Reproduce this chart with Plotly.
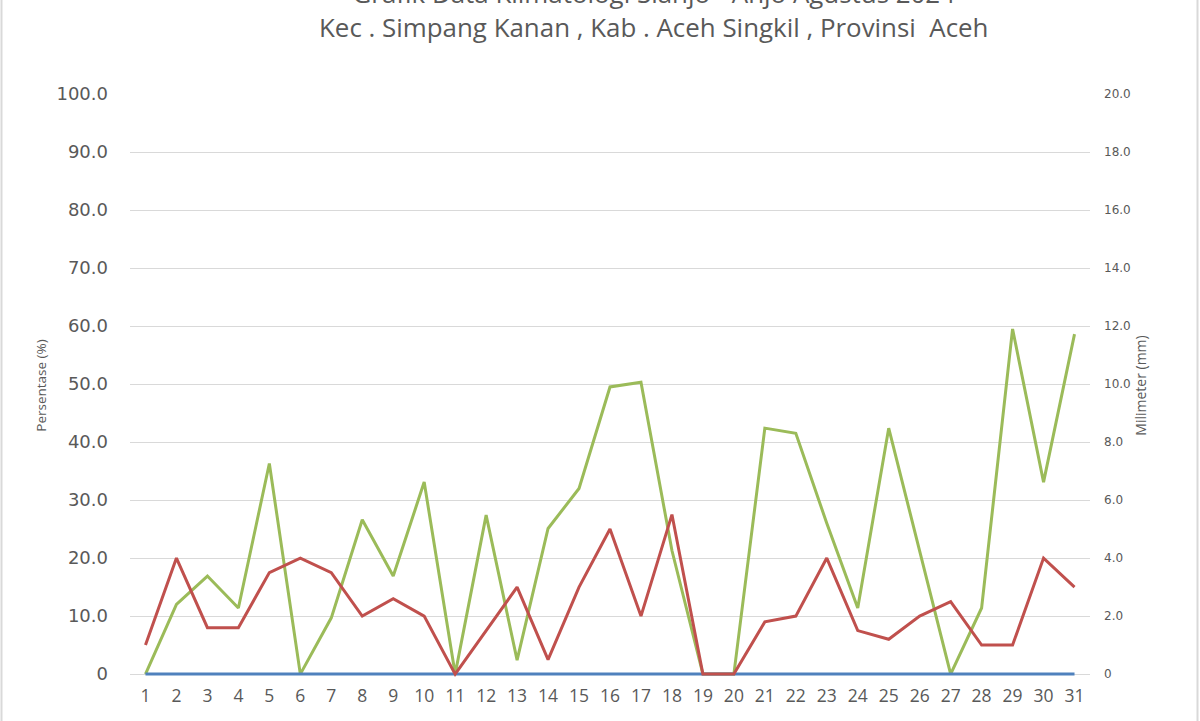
import plotly.graph_objects as go

days = list(range(1, 32))
day_labels = [str(d) for d in days]

# Green series (left axis, %)
green_pct = [0, 12.0, 16.9, 11.4, 36.3, 0, 9.7, 26.6, 16.9, 33.1, 0, 27.4, 2.4, 25.1, 32.0,
             49.5, 50.3, 21.3, 0, 0, 42.4, 41.5, 26.0, 11.4, 42.4, 21.0, 0, 11.4, 59.5, 33.1, 58.6]
# Red series (right axis, mm)
red_mm = [1.0, 4.0, 1.6, 1.6, 3.5, 4.0, 3.5, 2.0, 2.6, 2.0, 0, 1.5, 3.0, 0.5, 3.0, 5.0, 2.0,
          5.5, 0, 0, 1.8, 2.0, 4.0, 1.5, 1.2, 2.0, 2.5, 1.0, 1.0, 4.0, 3.0]
# Blue series (left axis)
blue_vals = [0] * 31

left_ticks = [0, 10, 20, 30, 40, 50, 60, 70, 80, 90, 100]
left_labels = ["0", "10.0", "20.0", "30.0", "40.0", "50.0", "60.0", "70.0", "80.0", "90.0", "100.0"]
right_ticks = [0, 2, 4, 6, 8, 10, 12, 14, 16, 18, 20]
right_labels = ["0", "2.0", "4.0", "6.0", "8.0", "10.0", "12.0", "14.0", "16.0", "18.0", "20.0"]

title_text = ("Grafik Data Klimatologi Sianjo - Anjo Agustus 2024<br>"
              "Kec . Simpang Kanan , Kab . Aceh Singkil , Provinsi  Aceh")

GRAY = "#595959"

fig = go.Figure()
fig.add_trace(go.Scatter(x=days, y=green_pct, mode="lines", yaxis="y",
                         line=dict(color="#9bbb59", width=3), name="green"))
fig.add_trace(go.Scatter(x=days, y=red_mm, mode="lines", yaxis="y2",
                         line=dict(color="#c0504d", width=3), name="red"))
fig.add_trace(go.Scatter(x=days, y=blue_vals, mode="lines", yaxis="y",
                         line=dict(color="#4f81bd", width=3), name="blue"))

# small padding below zero so lines at zero are not clipped
PAD = 0.5  # in left-axis units
L, R, T = 130, 110, 94
W = 1200 - L - R
H0 = 580  # pixels spanning 0..100
H = H0 * (100 + PAD) / 100
B = 721 - T - H

fig.update_layout(
    width=1200, height=721,
    margin=dict(l=L, r=R, t=T, b=B, pad=0),
    paper_bgcolor="white", plot_bgcolor="white",
    showlegend=False,
    xaxis=dict(range=[0.5, 31.5], tickmode="array", tickvals=days, ticktext=day_labels,
               showgrid=False, zeroline=False, showline=False, ticks="",
               tickfont=dict(family="Open Sans", size=17.5, color=GRAY),
               ticklabelstandoff=6),
    yaxis=dict(range=[-PAD, 100], tickmode="array", tickvals=left_ticks, ticktext=left_labels,
               showgrid=True, gridcolor="#d9d9d9", gridwidth=1, zeroline=False,
               showline=False, ticks="",
               tickfont=dict(family="DejaVu Sans", size=18, color=GRAY),
               ticklabelstandoff=21,
               title=dict(text="Persentase (%)", standoff=6,
                          font=dict(family="Open Sans", size=13.5, color=GRAY))),
    yaxis2=dict(range=[-PAD / 5, 20], overlaying="y", side="right", tickmode="array",
                tickvals=right_ticks, ticktext=right_labels, showgrid=False,
                zeroline=False, showline=False, ticks="",
                tickfont=dict(family="DejaVu Sans", size=12, color=GRAY),
                ticklabelstandoff=13,
                title=dict(text="Milimeter (mm)", standoff=6,
                           font=dict(family="Open Sans", size=14, color=GRAY))),
    annotations=[dict(text=title_text, xref="paper", yref="paper",
                      x=(654 - L) / W, y=(H - (47.5 - T)) / H - 0.0, xanchor="center",
                      yanchor="bottom", showarrow=False, align="center",
                      font=dict(family="Open Sans", size=25.9, color=GRAY))],
    shapes=[dict(type="line", xref="paper", yref="paper", x0=(1.5 - L) / W, x1=(1.5 - L) / W,
                 y0=-1, y1=2, line=dict(color="#d9d9d9", width=2)),
            dict(type="line", xref="paper", yref="paper", x0=(1197.5 - L) / W, x1=(1197.5 - L) / W,
                 y0=-1, y1=2, line=dict(color="#d9d9d9", width=2))],
)

fig.write_html("out.html")
